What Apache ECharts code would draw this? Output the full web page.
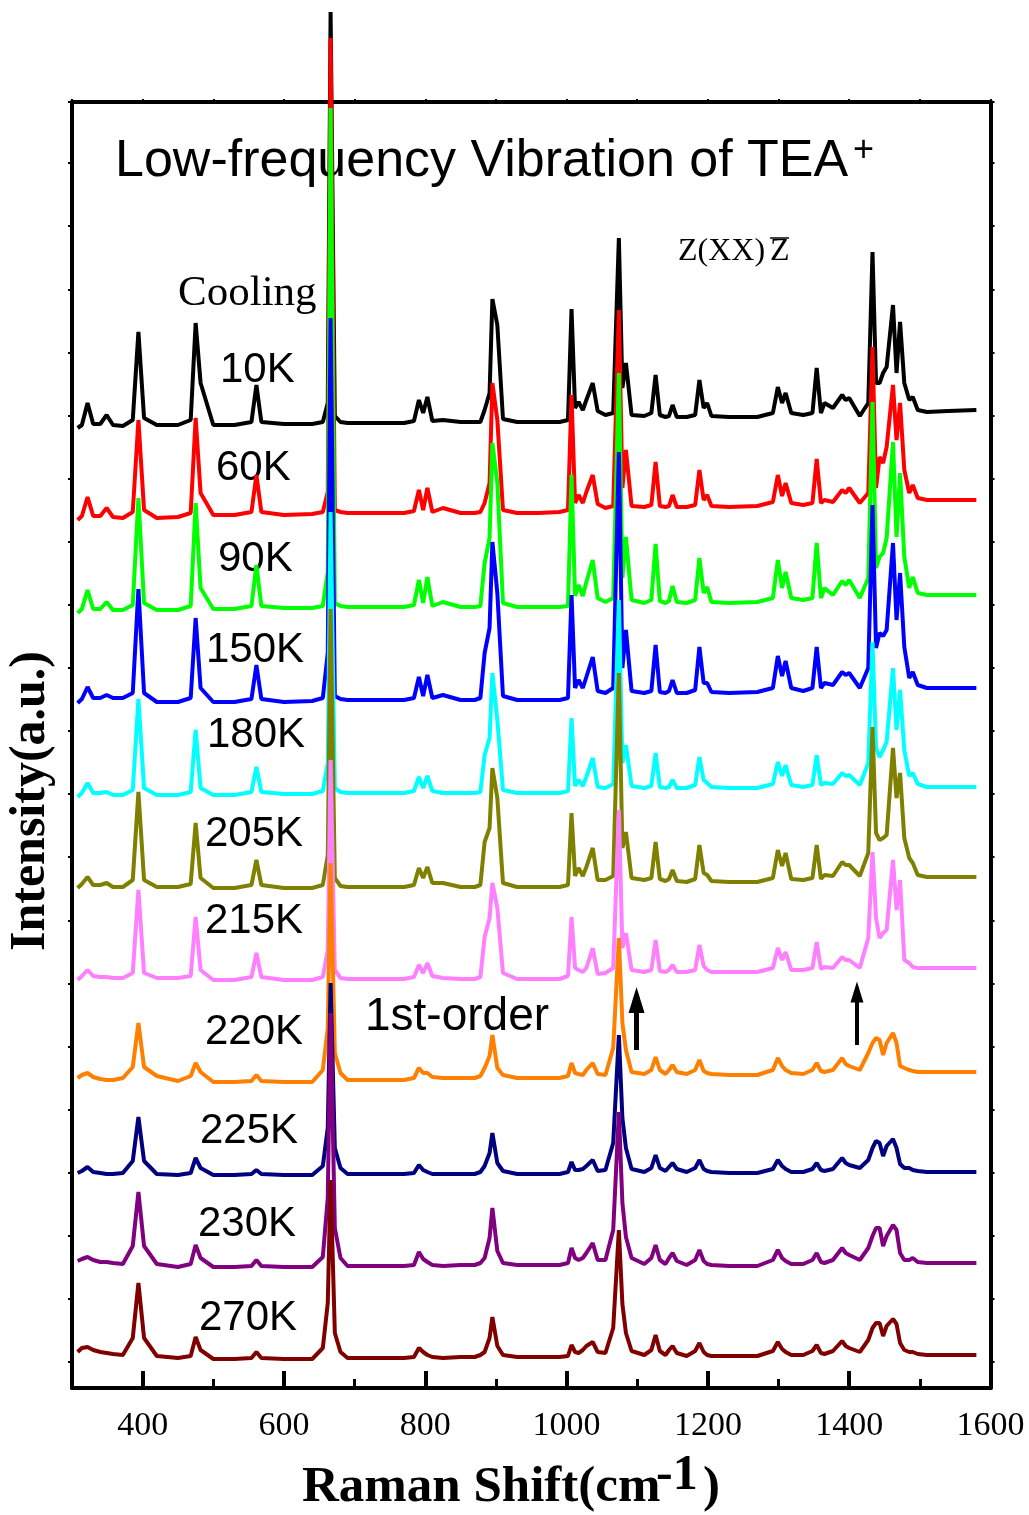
<!DOCTYPE html>
<html>
<head>
<meta charset="utf-8">
<title>Low-frequency Vibration of TEA+</title>
<script src="https://cdn.jsdelivr.net/npm/echarts@6/dist/echarts.min.js"></script>
<style>
    html, body { margin: 0; padding: 0; background: #fff; }
    #chart { width: 1029px; height: 1515px; }
</style>
</head>
<body>
<div id="chart"></div>
<script>
// Raman shift sample points (cm-1), shared by every spectrum
var shifts = [
    308, 314, 322, 330, 340, 349, 358, 372, 386, 394,
    402, 420, 450, 468, 475, 482, 500, 530, 554, 561,
    568, 600, 640, 655, 662, 666, 672, 680, 690, 730, 770,
    784, 791, 797, 803, 810, 825, 850, 870, 878, 884, 891,
    895, 902, 910, 930, 960, 990, 1002, 1007, 1012, 1017,
    1023, 1028, 1037, 1044, 1055, 1066, 1074, 1079, 1084, 1092,
    1110, 1120, 1126, 1132, 1140, 1145, 1150, 1156, 1170, 1182,
    1188, 1194, 1199, 1205, 1230, 1270, 1292, 1299, 1305, 1310,
    1318, 1335, 1348, 1354, 1360, 1365, 1377, 1390, 1395, 1400,
    1415, 1427, 1433, 1438, 1443, 1448, 1453, 1462, 1467, 1472,
    1478, 1485, 1490, 1497, 1510, 1540, 1580
];

var temps = ['10K', '60K', '90K', '150K', '180K', '205K', '215K', '220K', '225K', '230K', '270K'];

// intensities (a.u., already offset for the stacked plot)
var spec10K = [
    960, 963, 985, 964, 964, 973, 963, 962, 968, 1056,
    970, 963, 963, 968, 1065, 1005, 963, 963, 966, 1003,
    966, 964, 964, 966, 985, 1376, 972, 966, 965, 965, 965,
    967, 988, 975, 991, 967, 968, 966, 966, 966, 978, 995,
    1089, 1063, 969, 966, 966, 966, 968, 1079, 980, 986,
    978, 988, 1005, 977, 973, 975, 1150, 1000, 1025, 973,
    972, 975, 1013, 973, 971, 972, 983, 971, 971, 973,
    1008, 980, 985, 972, 971, 971, 975, 1001, 985, 995,
    975, 973, 975, 1020, 975, 985, 980, 993, 988, 990,
    972, 985, 1136, 1005, 1005, 1015, 1021, 1083, 1015, 1066,
    1005, 988, 991, 978, 976, 977, 978
];
var spec60K = [
    868, 872, 891, 872, 872, 880, 871, 870, 876, 968,
    878, 870, 871, 875, 970, 895, 873, 873, 876, 913,
    876, 873, 874, 876, 896, 1350, 878, 876, 875, 875, 875,
    877, 898, 878, 900, 876, 880, 875, 875, 876, 885, 905,
    1005, 968, 878, 875, 875, 876, 878, 993, 885, 893,
    885, 896, 913, 884, 880, 882, 1078, 900, 938, 882,
    881, 883, 926, 882, 881, 882, 893, 881, 881, 883,
    918, 888, 893, 882, 881, 882, 886, 913, 892, 905,
    885, 883, 885, 929, 885, 888, 886, 898, 895, 900,
    885, 895, 1041, 900, 931, 925, 941, 1003, 948, 985,
    918, 895, 903, 890, 888, 888, 888
];
var spec90K = [
    775, 779, 798, 779, 779, 786, 778, 778, 783, 890,
    785, 778, 778, 782, 885, 800, 779, 779, 782, 823,
    782, 780, 780, 782, 816, 1280, 785, 782, 781, 781, 781,
    783, 808, 785, 811, 782, 786, 781, 781, 782, 825, 850,
    945, 905, 785, 781, 781, 781, 782, 913, 792, 803,
    792, 806, 828, 790, 786, 790, 1015, 810, 851, 788,
    785, 788, 844, 787, 785, 787, 802, 786, 785, 788,
    830, 795, 801, 786, 785, 786, 790, 828, 800, 816,
    790, 788, 790, 845, 790, 800, 793, 807, 803, 808,
    790, 810, 986, 820, 831, 835, 850, 946, 851, 915,
    831, 800, 811, 795, 793, 793, 793
];
var spec150K = [
    685, 689, 701, 690, 690, 693, 690, 690, 695, 799,
    695, 686, 686, 690, 770, 700, 686, 686, 689, 723,
    689, 686, 687, 690, 735, 1070, 692, 689, 688, 688, 688,
    690, 711, 692, 713, 690, 693, 688, 688, 690, 735, 760,
    846, 795, 692, 688, 688, 688, 690, 793, 700, 708,
    700, 711, 731, 697, 695, 700, 936, 720, 758, 697,
    695, 697, 743, 696, 695, 697, 708, 695, 695, 698,
    741, 705, 705, 696, 695, 696, 700, 732, 712, 727,
    700, 697, 700, 741, 700, 705, 703, 716, 713, 715,
    700, 720, 883, 740, 755, 752, 758, 845, 768, 815,
    741, 710, 716, 703, 700, 700, 700
];
var spec180K = [
    591, 595, 605, 595, 595, 596, 593, 593, 598, 689,
    600, 593, 593, 596, 658, 600, 593, 593, 596, 621,
    596, 594, 594, 597, 625, 876, 600, 596, 595, 595, 595,
    597, 611, 600, 612, 597, 595, 595, 595, 596, 633, 650,
    715, 668, 598, 595, 595, 595, 597, 670, 602, 608,
    602, 611, 630, 601, 600, 604, 788, 625, 643, 602,
    600, 602, 635, 601, 600, 601, 608, 600, 600, 603,
    631, 608, 605, 601, 600, 600, 604, 626, 612, 623,
    603, 601, 603, 633, 603, 605, 604, 615, 612, 613,
    603, 625, 746, 640, 631, 638, 646, 720, 658, 698,
    638, 612, 615, 604, 601, 601, 601
];
var spec205K = [
    500, 504, 511, 503, 503, 505, 501, 501, 508, 596,
    508, 501, 501, 504, 565, 510, 500, 500, 503, 528,
    503, 500, 500, 503, 533, 779, 510, 502, 501, 501, 501,
    503, 520, 510, 521, 505, 505, 501, 501, 503, 546, 560,
    620, 590, 505, 501, 501, 501, 503, 575, 512, 520,
    512, 521, 540, 508, 508, 512, 715, 540, 556, 510,
    508, 510, 546, 509, 507, 509, 518, 507, 506, 509,
    543, 515, 513, 507, 506, 506, 510, 538, 522, 535,
    509, 508, 510, 543, 509, 513, 512, 526, 523, 523,
    512, 535, 661, 555, 548, 550, 553, 640, 590, 615,
    550, 530, 525, 513, 511, 511, 511
];
var spec215K = [
    408, 412, 418, 412, 411, 411, 410, 410, 415, 498,
    415, 410, 410, 412, 471, 418, 408, 408, 411, 435,
    411, 408, 408, 411, 438, 628, 418, 410, 409, 409, 409,
    411, 423, 415, 425, 412, 410, 409, 409, 411, 451, 470,
    505, 480, 415, 409, 409, 409, 412, 471, 420, 418,
    416, 420, 440, 414, 415, 420, 578, 440, 455, 418,
    416, 418, 448, 417, 416, 418, 423, 416, 416, 418,
    443, 422, 418, 416, 416, 416, 420, 440, 428, 436,
    418, 418, 420, 446, 419, 421, 420, 431, 428, 428,
    420, 450, 536, 470, 450, 455, 458, 528, 478, 508,
    428, 425, 421, 420, 420, 420, 420
];
var spec220K = [
    310, 313, 315, 311, 309, 308, 308, 310, 321, 365,
    321, 312, 307, 312, 325, 316, 306, 306, 307, 313,
    307, 306, 306, 318, 360, 525, 335, 315, 308, 308, 308,
    310, 320, 315, 315, 311, 310, 310, 310, 312, 320, 332,
    353, 320, 313, 310, 310, 310, 312, 325, 315, 314,
    313, 318, 325, 314, 313, 340, 450, 365, 338, 316,
    314, 318, 331, 318, 314, 318, 323, 316, 314, 318,
    328, 317, 315, 314, 313, 313, 318, 330, 322, 318,
    315, 314, 318, 325, 317, 316, 318, 330, 324, 322,
    318, 335, 345, 350, 348, 333, 345, 355, 345, 322,
    320, 318, 317, 316, 316, 316, 316
];
var spec225K = [
    215, 217, 221, 216, 215, 214, 214, 215, 227, 271,
    227, 214, 213, 215, 230, 220, 213, 213, 214, 218,
    214, 213, 213, 222, 260, 405, 240, 220, 214, 214, 214,
    215, 223, 218, 216, 214, 214, 214, 214, 216, 222, 235,
    255, 225, 217, 214, 214, 214, 216, 226, 218, 218,
    219, 222, 228, 217, 218, 245, 353, 270, 240, 219,
    216, 220, 233, 220, 217, 221, 225, 219, 216, 220,
    228, 219, 217, 216, 215, 215, 219, 228, 222, 219,
    216, 216, 219, 225, 218, 217, 219, 230, 225, 223,
    220, 228, 240, 247, 245, 232, 242, 249, 240, 224,
    220, 220, 218, 217, 216, 216, 216
];
var spec230K = [
    127, 129, 131, 128, 126, 126, 125, 124, 142, 196,
    142, 124, 121, 124, 143, 130, 121, 121, 122, 128,
    122, 121, 121, 131, 190, 375, 160, 130, 122, 122, 122,
    123, 136, 129, 126, 123, 122, 123, 123, 125, 130, 150,
    180, 137, 125, 123, 123, 123, 125, 140, 130, 128,
    130, 135, 145, 128, 128, 158, 276, 185, 151, 130,
    124, 130, 143, 128, 124, 130, 135, 127, 123, 128,
    138, 127, 124, 123, 122, 122, 128, 138, 130, 127,
    124, 124, 128, 135, 126, 125, 128, 140, 135, 133,
    128, 140, 152, 160, 160, 142, 152, 163, 158, 135,
    128, 128, 130, 126, 125, 125, 125
];
var spec270K = [
    36, 40, 41, 38, 36, 35, 34, 33, 50, 105,
    50, 32, 30, 32, 51, 38, 29, 29, 30, 36,
    30, 29, 29, 40, 85, 208, 55, 36, 30, 30, 30,
    31, 40, 36, 33, 31, 30, 31, 31, 33, 36, 50,
    71, 42, 33, 31, 31, 31, 32, 43, 36, 35,
    38, 42, 46, 36, 35, 60, 158, 84, 55, 37,
    33, 38, 53, 37, 33, 38, 42, 35, 32, 37,
    45, 36, 33, 32, 32, 32, 37, 46, 39, 36,
    33, 33, 37, 43, 35, 34, 37, 47, 42, 40,
    36, 48, 60, 65, 65, 52, 62, 69, 64, 45,
    38, 36, 36, 34, 33, 33, 33
];

var spectra = [spec10K, spec60K, spec90K, spec150K, spec180K, spec205K,
               spec215K, spec220K, spec225K, spec230K, spec270K];
var colors = ['#000000', '#ff0000', '#00ff00', '#0000ff', '#00ffff', '#808000',
              '#ff80ff', '#ff8000', '#000080', '#800080', '#800000'];

// arrows marking the new modes: [shift, from, to]
var arrowMarks = [[1099, 338, 388], [1411, 343, 396]];

var serif = '"Liberation Serif", "Times New Roman", serif';
var sans = '"Liberation Sans", Arial, sans-serif';

var myChart = echarts.init(document.getElementById('chart'), null, {renderer: 'canvas'});

var series = spectra.map(function (vals, k) {
    return {
        name: temps[k],
        type: 'line',
        xAxisIndex: 0,
        yAxisIndex: 0,
        showSymbol: false,
        clip: false,
        lineStyle: { color: colors[k], width: 4 },
        itemStyle: { color: colors[k] },
        data: shifts.map(function (x, i) { return [x, vals[i]]; })
    };
});

// empty series just to hold the two arrows
series.push({
    type: 'line',
    xAxisIndex: 0,
    yAxisIndex: 0,
    data: [],
    markLine: {
        silent: true,
        symbol: ['none', 'triangle'],
        symbolSize: [16, 26],
        label: { show: false },
        data: [
            [{ coord: [arrowMarks[0][0], arrowMarks[0][1]], lineStyle: { width: 5 } },
             { coord: [arrowMarks[0][0], arrowMarks[0][2]], symbolSize: [16, 26] }],
            [{ coord: [arrowMarks[1][0], arrowMarks[1][1]], lineStyle: { width: 4 } },
             { coord: [arrowMarks[1][0], arrowMarks[1][2]], symbolSize: [13, 21] }]
        ],
        lineStyle: { color: '#000', type: 'solid' }
    }
});

// temperature labels: [left x, middle y]
var labelPos = [[220, 370], [216, 468], [218, 559], [206, 650], [207, 735], [205, 834],
                [205, 921], [205, 1032], [200, 1131], [198, 1224], [199, 1318]];

function text(str, x, y, size, family, weight, align) {
    return {
        type: 'text',
        x: x,
        y: y,
        silent: true,
        style: {
            text: str,
            fill: '#000',
            font: (weight || 'normal') + ' ' + size + 'px ' + family,
            align: align || 'left',
            textAlign: align || 'left',
            verticalAlign: 'middle',
            textVerticalAlign: 'middle'
        }
    };
}

var graphics = labelPos.map(function (p, k) {
    return text(temps[k], p[0], p[1], 42, sans);
});
graphics.push(text('Low-frequency Vibration of TEA', 115, 162, 52, sans));
graphics.push(text('+', 853, 151, 36, sans));
graphics.push(text('Cooling', 178, 294, 43, serif));
graphics.push(text('Z(XX)', 678, 252, 32, serif));
graphics.push(text('Z', 770, 252, 32, serif));
graphics.push({
    type: 'line', silent: true,
    shape: { x1: 770, y1: 238, x2: 789, y2: 238 },
    style: { stroke: '#000', lineWidth: 1.5 }
});
graphics.push(text('1st-order', 365, 1017, 46, sans));
// axis titles
graphics.push(text('Raman Shift(cm', 302, 1488, 51, serif, 'bold'));
graphics.push(text('-1', 656, 1476, 50, serif, 'bold'));
graphics.push(text(')', 703, 1488, 51, serif, 'bold'));
var yTitle = text('Intensity(a.u.)', 0, 0, 50, serif, 'bold', 'center');
yTitle.x = 31;
yTitle.y = 801;
yTitle.rotation = Math.PI / 2;
graphics.push(yTitle);

var frameLine = { show: true, onZero: false, lineStyle: { color: '#000', width: 4 } };
var noLine = { show: false, onZero: false };
var smallTick = { show: true, inside: false, length: 4, lineStyle: { color: '#000', width: 2 } };

var option = {
    animation: false,
    backgroundColor: '#fff',
    grid: [
        { left: 72, right: 38.5, top: 102, bottom: 127 },
        // helper grid: long ticks at 400..1600
        { left: 142.65, right: 38.5, top: 102, bottom: 127 },
        // helper grid: small side ticks
        { left: 72, right: 38.5, top: 102, bottom: 153 }
    ],
    xAxis: [
        {
            type: 'value', gridIndex: 0, position: 'bottom',
            min: 300, max: 1600, interval: 100,
            axisLine: frameLine,
            axisTick: { show: true, inside: true, length: 9, lineStyle: { color: '#000', width: 3 } },
            axisLabel: {
                color: '#000', fontFamily: serif, fontSize: 34, margin: 21,
                formatter: function (v) { return (v % 200 === 0 && v >= 400) ? String(v) : ''; }
            },
            splitLine: { show: false }
        },
        {
            type: 'value', gridIndex: 0, position: 'top',
            min: 300, max: 1600, interval: 100,
            axisLine: frameLine,
            axisTick: { show: true, inside: false, length: 3, lineStyle: { color: '#000', width: 2 } },
            axisLabel: { show: false },
            splitLine: { show: false }
        },
        {
            type: 'value', gridIndex: 1, position: 'bottom',
            min: 400, max: 1600, interval: 200,
            axisLine: noLine,
            axisTick: { show: true, inside: true, length: 17, lineStyle: { color: '#000', width: 4 } },
            axisLabel: { show: false },
            splitLine: { show: false }
        },
        { type: 'value', gridIndex: 2, show: false, min: 300, max: 1600 }
    ],
    yAxis: [
        {
            type: 'value', gridIndex: 0, position: 'left',
            min: 0, max: 1286,
            axisLine: frameLine, axisTick: { show: false }, axisLabel: { show: false },
            splitLine: { show: false }
        },
        {
            type: 'value', gridIndex: 0, position: 'right',
            min: 0, max: 1286,
            axisLine: frameLine, axisTick: { show: false }, axisLabel: { show: false },
            splitLine: { show: false }
        },
        { type: 'value', gridIndex: 1, show: false, min: 0, max: 1286 },
        {
            type: 'value', gridIndex: 2, position: 'left',
            min: 0, max: 1260, interval: 63.1,
            axisLine: noLine, axisTick: smallTick,
            axisLabel: { show: false }, splitLine: { show: false }
        },
        {
            type: 'value', gridIndex: 2, position: 'right',
            min: 0, max: 1260, interval: 63.1,
            axisLine: noLine, axisTick: smallTick,
            axisLabel: { show: false }, splitLine: { show: false }
        }
    ],
    graphic: graphics,
    series: series
};

myChart.setOption(option);
</script>
</body>
</html>
